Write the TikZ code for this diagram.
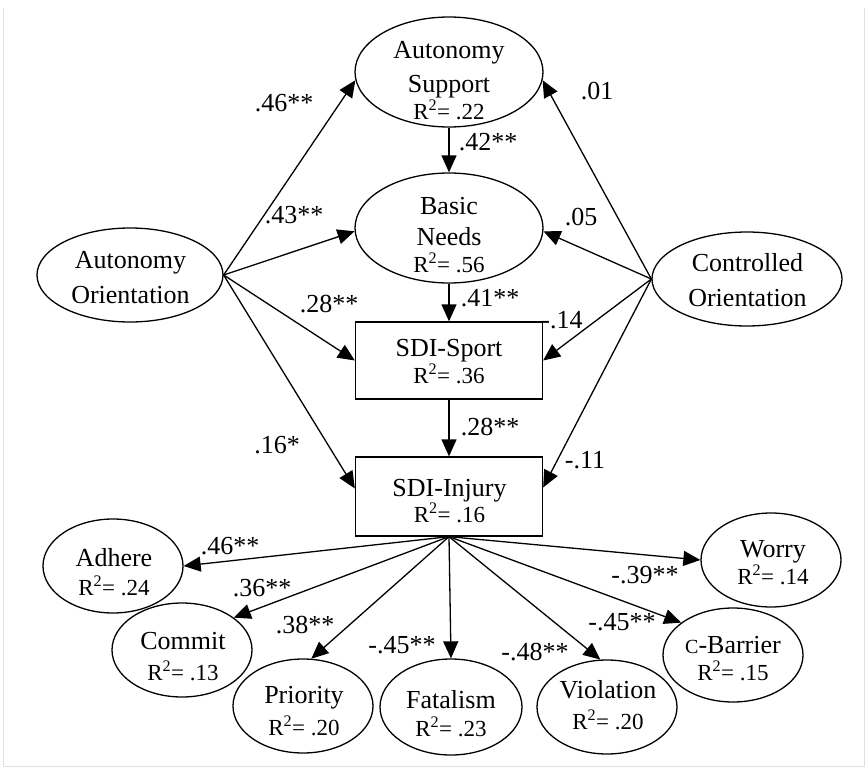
\documentclass[tikz,border=0pt]{standalone}
\usepackage{fontspec}
\setmainfont{Liberation Serif}
\usetikzlibrary{shapes.geometric,arrows.meta}

\newcommand{\rsq}[1]{{\fontsize{23}{30}\selectfont R\textsuperscript{2}= #1}}

\tikzset{
	oval/.style={draw, ellipse, line width=1.3pt, inner sep=0pt},
	box/.style={draw, rectangle, line width=1.3pt, inner sep=0pt},
	txt/.style={align=center, inner sep=0pt, font=\fontsize{26}{30}\selectfont},
	coef/.style={inner sep=0pt, font=\fontsize{26}{30}\selectfont},
	link/.style={line width=1.3pt, -{Triangle[length=17pt,width=15pt]}},
}

\begin{document}
\begin{tikzpicture}[x=1pt,y=-1pt]
	\useasboundingbox (0,0) rectangle (868,771);
	\draw[black!12, line width=1pt] (3,8) -- (3,766) -- (864,766) -- (864,8);

	% shapes
	\node[oval, minimum width=188, minimum height=110] (as) at (449,72) {};
	\node[oval, minimum width=188, minimum height=110] (bn) at (449,228) {};
	\node[oval, minimum width=186, minimum height=94] (ao) at (130,275) {};
	\node[oval, minimum width=190, minimum height=94] (co) at (747,279) {};
	\node[box, minimum width=187, minimum height=77] (sport) at (449,360.5) {};
	\node[box, minimum width=187, minimum height=79] (injury) at (449,496.5) {};
	\node[oval, minimum width=140, minimum height=94] (adhere) at (113,566) {};
	\node[oval, minimum width=140, minimum height=94] (commit) at (182,650) {};
	\node[oval, minimum width=140, minimum height=94] (priority) at (303,706) {};
	\node[oval, minimum width=142, minimum height=96] (fatalism) at (451,707) {};
	\node[oval, minimum width=140, minimum height=94] (violation) at (607,707) {};
	\node[oval, minimum width=140, minimum height=94] (cbarrier) at (733,655) {};
	\node[oval, minimum width=140, minimum height=94] (worry) at (771,560) {};

	% texts
	\node[txt] (as-t) at (449,81) {Autonomy\\[4pt]Support\\[-3pt]\rsq{.22}};
	\node[txt] (bn-t) at (449,235) {Basic\\[1pt]Needs\\[-3pt]\rsq{.56}};
	\node[txt] (ao-t) at (130.5,277.5) {Autonomy\\[5pt]Orientation};
	\node[txt] (co-t) at (747.5,280.5) {Controlled\\[5pt]Orientation};
	\node[txt] (sport-t) at (449,361.5) {SDI-Sport\\[-3pt]\rsq{.36}};
	\node[txt] (injury-t) at (449.5,501.5) {SDI-Injury\\[-4pt]\rsq{.16}};
	\node[txt] (adhere-t) at (114,572.5) {Adhere\\[-1pt]\rsq{.24}};
	\node[txt] (commit-t) at (183,656.5) {Commit\\[1pt]\rsq{.13}};
	\node[txt] (priority-t) at (304,711) {Priority\\[2pt]\rsq{.20}};
	\node[txt] (fatalism-t) at (451,714) {Fatalism\\[-2pt]\rsq{.23}};
	\node[txt] (violation-t) at (608,705.5) {Violation\\[1pt]\rsq{.20}};
	\node[txt] (cbarrier-t) at (733,658.5) {{\fontsize{20}{30}\selectfont C}-Barrier\\[-3pt]\rsq{.15}};
	\node[txt] (worry-t) at (773,563) {Worry\\[-3pt]\rsq{.14}};

	% paths
	\draw[link] (ao.east) -- (as.185);
	\draw[link] (ao.east) -- (bn.182);
	\draw[link] (ao.east) -- (sport.west);
	\draw[link] (ao.east) -- ([yshift=8pt]injury.west);
	\draw[link] (co.west) -- (as.355);
	\draw[link] (co.west) -- (bn.358);
	\draw[link] (co.west) -- (sport.east);
	\draw[link] (co.west) -- ([yshift=9pt]injury.east);
	\draw[link] (as.south) -- (bn.north);
	\draw[link] (bn.south) -- (sport.north);
	\draw[link] (sport.south) -- (injury.north);
	\draw[link] (injury.south) -- (adhere.east);
	\draw[link] (injury.south) -- (commit.32);
	\draw[link] (injury.south) -- (priority.80);
	\draw[link] (injury.south) -- (fatalism.north);
	\draw[link] (injury.south) -- (violation.98);
	\draw[link] (injury.south) -- (cbarrier.148);
	\draw[link] (injury.south) -- (worry.west);

	% coefficients
	\node[coef] (c-ao-as) at (284,103) {.46**};
	\node[coef] (c-ao-bn) at (294,215) {.43**};
	\node[coef] (c-ao-sp) at (329,304) {.28**};
	\node[coef] (c-ao-in) at (277,445) {.16*};
	\node[coef] (c-as-bn) at (488,142) {.42**};
	\node[coef] (c-bn-sp) at (490,298) {.41**};
	\node[coef] (c-sp-in) at (490,427) {.28**};
	\node[coef] (c-co-as) at (597,91) {.01};
	\node[coef] (c-co-bn) at (581,217) {.05};
	\node[coef] (c-co-sp) at (562,320) {-.14};
	\node[coef] (c-co-in) at (585,460) {-.11};
	\node[coef] (c-adhere) at (230,546) {.46**};
	\node[coef] (c-commit) at (262,588) {.36**};
	\node[coef] (c-priority) at (305,625) {.38**};
	\node[coef] (c-fatalism) at (402,645) {-.45**};
	\node[coef] (c-violation) at (535,652) {-.48**};
	\node[coef] (c-cbarrier) at (622,622) {-.45**};
	\node[coef] (c-worry) at (645,575) {-.39**};
\end{tikzpicture}
\end{document}
